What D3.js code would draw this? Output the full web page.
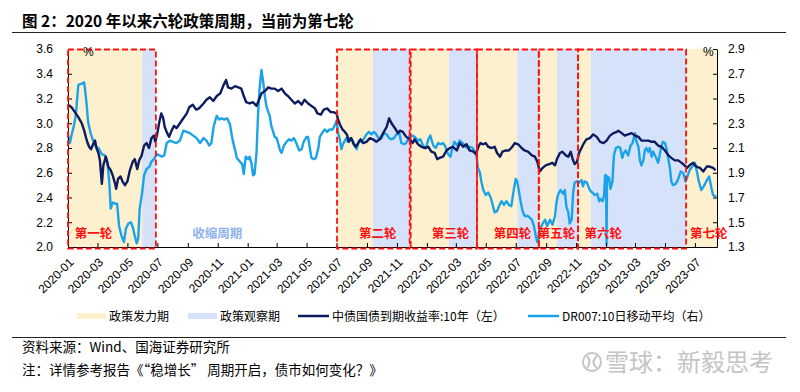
<!DOCTYPE html>
<html>
<head>
<meta charset="utf-8">
<script src="https://cdn.jsdelivr.net/npm/d3@7"></script>
<style>
  body { margin: 0; background: #fff; }
  svg text { font-family: "Liberation Sans", Arial, sans-serif; }
  svg .cjk { font-family: "Noto Sans CJK SC", sans-serif; }
</style>
</head>
<body>
<div id="chart"></div>
<script>
// 中债国债到期收益率:10年 (左轴, %)
var yield10y = [
  ['2020-01-01',3.15],['2020-01-08',3.13],['2020-01-15',3.09],['2020-01-22',3.05],['2020-01-29',3.00],
  ['2020-02-03',2.94],['2020-02-07',2.88],['2020-02-10',2.84],['2020-02-13',2.81],['2020-02-17',2.79],['2020-02-20',2.82],['2020-02-25',2.86],['2020-02-28',2.80],
  ['2020-03-03',2.76],['2020-03-06',2.70],['2020-03-10',2.51],['2020-03-13',2.66],['2020-03-18',2.73],['2020-03-23',2.65],['2020-03-28',2.62],
  ['2020-04-01',2.58],['2020-04-06',2.51],['2020-04-08',2.47],['2020-04-12',2.55],['2020-04-17',2.57],['2020-04-21',2.53],['2020-04-26',2.50],
  ['2020-05-01',2.53],['2020-05-06',2.62],['2020-05-12',2.69],['2020-05-16',2.71],['2020-05-21',2.63],['2020-05-25',2.70],['2020-05-30',2.74],
  ['2020-06-04',2.82],['2020-06-09',2.84],['2020-06-14',2.80],['2020-06-19',2.88],['2020-06-24',2.90],['2020-06-27',2.85],
  ['2020-07-01',2.92],['2020-07-05',3.01],['2020-07-09',3.08],['2020-07-13',3.04],['2020-07-16',2.97],['2020-07-21',2.92],['2020-07-25',2.89],['2020-07-30',2.94],
  ['2020-08-04',2.98],['2020-08-09',2.96],['2020-08-16',3.00],['2020-08-23',3.04],['2020-08-30',3.08],
  ['2020-09-04',3.13],['2020-09-11',3.15],['2020-09-18',3.11],['2020-09-24',3.12],
  ['2020-10-03',3.16],['2020-10-09',3.19],['2020-10-16',3.21],['2020-10-23',3.18],['2020-10-30',3.22],
  ['2020-11-06',3.24],['2020-11-12',3.30],['2020-11-18',3.35],['2020-11-22',3.29],['2020-11-29',3.28],
  ['2020-12-06',3.30],['2020-12-13',3.29],['2020-12-19',3.28],['2020-12-24',3.22],['2020-12-29',3.17],
  ['2021-01-05',3.16],['2021-01-12',3.17],['2021-01-19',3.14],['2021-01-24',3.19],['2021-01-29',3.24],
  ['2021-02-05',3.26],['2021-02-12',3.29],['2021-02-18',3.28],['2021-02-25',3.28],
  ['2021-03-04',3.26],['2021-03-11',3.28],['2021-03-18',3.24],['2021-03-24',3.22],['2021-03-31',3.19],
  ['2021-04-07',3.16],['2021-04-14',3.18],['2021-04-21',3.15],['2021-04-27',3.19],
  ['2021-05-04',3.16],['2021-05-11',3.14],['2021-05-18',3.12],['2021-05-23',3.08],['2021-05-30',3.07],
  ['2021-06-05',3.11],['2021-06-12',3.12],['2021-06-19',3.09],['2021-06-24',3.09],
  ['2021-07-01',3.08],['2021-07-04',3.03],['2021-07-08',2.99],['2021-07-13',2.95],['2021-07-18',2.93],['2021-07-22',2.91],['2021-07-26',2.85],['2021-07-31',2.88],
  ['2021-08-05',2.83],['2021-08-09',2.81],['2021-08-14',2.84],['2021-08-19',2.87],['2021-08-24',2.84],['2021-08-31',2.85],
  ['2021-09-07',2.88],['2021-09-13',2.87],['2021-09-20',2.85],['2021-09-27',2.87],
  ['2021-10-04',2.92],['2021-10-11',2.97],['2021-10-16',3.04],['2021-10-21',3.00],['2021-10-28',2.96],
  ['2021-11-03',2.92],['2021-11-07',2.94],['2021-11-13',2.93],['2021-11-20',2.89],['2021-11-27',2.87],
  ['2021-12-03',2.84],['2021-12-07',2.87],['2021-12-14',2.83],['2021-12-21',2.81],['2021-12-28',2.80],
  ['2022-01-04',2.81],['2022-01-10',2.77],['2022-01-17',2.76],['2022-01-22',2.71],['2022-01-27',2.72],
  ['2022-02-03',2.73],['2022-02-10',2.78],['2022-02-17',2.80],['2022-02-23',2.81],
  ['2022-03-03',2.78],['2022-03-09',2.84],['2022-03-16',2.81],['2022-03-23',2.83],['2022-03-29',2.78],
  ['2022-04-06',2.77],['2022-04-11',2.75],['2022-04-16',2.81],['2022-04-20',2.84],['2022-04-26',2.83],
  ['2022-05-01',2.84],['2022-05-06',2.81],['2022-05-13',2.80],['2022-05-19',2.81],['2022-05-24',2.76],['2022-05-30',2.73],
  ['2022-06-04',2.77],['2022-06-11',2.78],['2022-06-17',2.78],['2022-06-24',2.81],['2022-06-29',2.84],
  ['2022-07-06',2.83],['2022-07-13',2.80],['2022-07-19',2.78],['2022-07-26',2.77],
  ['2022-08-03',2.74],['2022-08-09',2.73],['2022-08-14',2.69],['2022-08-19',2.61],['2022-08-25',2.64],['2022-08-31',2.66],
  ['2022-09-07',2.67],['2022-09-14',2.68],['2022-09-19',2.66],['2022-09-23',2.71],['2022-09-29',2.76],
  ['2022-10-04',2.77],['2022-10-11',2.74],['2022-10-16',2.73],['2022-10-21',2.77],['2022-10-25',2.71],['2022-10-29',2.67],
  ['2022-11-03',2.69],['2022-11-07',2.76],['2022-11-12',2.80],['2022-11-17',2.84],['2022-11-22',2.87],['2022-11-29',2.88],
  ['2022-12-06',2.91],['2022-12-13',2.89],['2022-12-20',2.85],['2022-12-27',2.84],
  ['2023-01-02',2.86],['2023-01-09',2.90],['2023-01-16',2.92],['2023-01-23',2.93],['2023-01-26',2.94],
  ['2023-02-02',2.92],['2023-02-08',2.90],['2023-02-15',2.91],['2023-02-22',2.92],
  ['2023-03-01',2.90],['2023-03-08',2.89],['2023-03-14',2.86],['2023-03-21',2.86],['2023-03-28',2.86],
  ['2023-04-04',2.85],['2023-04-10',2.85],['2023-04-17',2.82],['2023-04-24',2.81],
  ['2023-05-01',2.78],['2023-05-08',2.74],['2023-05-14',2.72],['2023-05-21',2.70],['2023-05-28',2.70],
  ['2023-06-04',2.68],['2023-06-10',2.66],['2023-06-15',2.64],['2023-06-20',2.66],['2023-06-27',2.68],
  ['2023-07-04',2.65],['2023-07-11',2.64],['2023-07-18',2.61],['2023-07-25',2.65],['2023-07-31',2.65],
  ['2023-08-07',2.64],['2023-08-12',2.62]
];

// DR007:10日移动平均 (右轴, %)
var dr007ma10 = [
  ['2020-01-01',2.20],['2020-01-05',2.14],['2020-01-08',2.20],['2020-01-13',2.28],['2020-01-17',2.37],['2020-01-22',2.61],['2020-01-29',2.62],
  ['2020-02-03',2.63],['2020-02-07',2.49],['2020-02-11',2.31],['2020-02-16',2.22],['2020-02-22',2.15],['2020-02-27',2.11],
  ['2020-03-03',2.10],['2020-03-10',2.05],['2020-03-16',2.04],['2020-03-21',1.99],['2020-03-25',1.83],['2020-03-28',1.61],
  ['2020-04-01',1.66],['2020-04-06',1.65],['2020-04-10',1.65],['2020-04-14',1.47],['2020-04-19',1.39],['2020-04-24',1.34],['2020-04-28',1.45],
  ['2020-05-03',1.49],['2020-05-08',1.50],['2020-05-12',1.46],['2020-05-16',1.39],['2020-05-20',1.33],['2020-05-23',1.37],['2020-05-26',1.61],['2020-05-31',1.74],
  ['2020-06-04',1.88],['2020-06-09',1.93],['2020-06-15',1.95],['2020-06-19',1.99],['2020-06-24',2.01],['2020-06-30',2.05],
  ['2020-07-05',2.04],['2020-07-10',2.03],['2020-07-15',2.04],['2020-07-20',2.14],['2020-07-27',2.16],
  ['2020-08-02',2.15],['2020-08-09',2.14],['2020-08-16',2.16],['2020-08-23',2.24],['2020-08-30',2.23],
  ['2020-09-05',2.22],['2020-09-12',2.20],['2020-09-19',2.18],['2020-09-26',2.14],
  ['2020-10-03',2.18],['2020-10-09',2.16],['2020-10-15',2.12],['2020-10-19',2.14],['2020-10-24',2.28],['2020-10-30',2.36],
  ['2020-11-04',2.33],['2020-11-09',2.34],['2020-11-15',2.33],['2020-11-20',2.34],['2020-11-26',2.29],
  ['2020-12-01',2.17],['2020-12-06',2.09],['2020-12-10',2.02],['2020-12-16',1.99],['2020-12-21',1.97],['2020-12-24',1.89],['2020-12-28',2.03],
  ['2021-01-02',2.01],['2021-01-05',2.03],['2021-01-09',1.97],['2021-01-12',1.88],['2021-01-15',1.89],['2021-01-19',2.06],['2021-01-22',2.36],['2021-01-25',2.57],['2021-01-29',2.73],
  ['2021-02-01',2.65],['2021-02-05',2.52],['2021-02-08',2.44],['2021-02-12',2.39],['2021-02-15',2.36],['2021-02-18',2.28],['2021-02-22',2.23],['2021-02-25',2.19],
  ['2021-03-01',2.18],['2021-03-04',2.14],['2021-03-08',2.08],['2021-03-11',2.06],['2021-03-16',2.12],['2021-03-21',2.15],['2021-03-26',2.17],['2021-03-31',2.16],
  ['2021-04-05',2.18],['2021-04-10',2.14],['2021-04-16',2.08],['2021-04-21',2.09],['2021-04-25',2.15],
  ['2021-05-01',2.19],['2021-05-04',2.19],['2021-05-08',2.09],['2021-05-11',2.02],['2021-05-16',2.01],['2021-05-20',2.02],['2021-05-25',2.10],['2021-05-28',2.19],
  ['2021-06-03',2.23],['2021-06-07',2.25],['2021-06-12',2.23],['2021-06-17',2.25],['2021-06-23',2.25],['2021-06-28',2.29],
  ['2021-07-01',2.32],['2021-07-04',2.23],['2021-07-08',2.16],['2021-07-11',2.09],['2021-07-14',2.13],['2021-07-18',2.16],['2021-07-21',2.18],['2021-07-24',2.15],['2021-07-28',2.18],
  ['2021-08-03',2.16],['2021-08-05',2.14],['2021-08-11',2.09],['2021-08-16',2.16],['2021-08-21',2.15],['2021-08-25',2.17],['2021-08-31',2.21],
  ['2021-09-05',2.23],['2021-09-10',2.21],['2021-09-15',2.23],['2021-09-20',2.21],['2021-09-26',2.17],
  ['2021-10-01',2.18],['2021-10-05',2.22],['2021-10-11',2.21],['2021-10-16',2.18],['2021-10-21',2.17],['2021-10-26',2.18],['2021-10-31',2.21],
  ['2021-11-06',2.22],['2021-11-10',2.14],['2021-11-15',2.13],['2021-11-20',2.14],['2021-11-27',2.20],
  ['2021-12-03',2.20],['2021-12-07',2.19],['2021-12-14',2.16],['2021-12-19',2.17],['2021-12-24',2.12],['2021-12-30',2.10],
  ['2022-01-04',2.17],['2022-01-08',2.20],['2022-01-14',2.12],['2022-01-19',2.10],['2022-01-24',2.14],['2022-01-29',2.13],
  ['2022-02-03',2.14],['2022-02-08',2.11],['2022-02-13',2.05],['2022-02-18',2.03],['2022-02-22',2.10],['2022-02-26',2.15],
  ['2022-03-04',2.12],['2022-03-09',2.16],['2022-03-15',2.14],['2022-03-19',2.12],['2022-03-24',2.10],['2022-03-29',2.11],
  ['2022-04-04',2.10],['2022-04-09',2.07],['2022-04-12',2.04],['2022-04-15',1.94],['2022-04-19',1.90],['2022-04-22',1.83],['2022-04-26',1.76],
  ['2022-05-01',1.72],['2022-05-06',1.74],['2022-05-11',1.70],['2022-05-15',1.64],['2022-05-19',1.58],['2022-05-24',1.59],['2022-05-28',1.63],
  ['2022-06-02',1.67],['2022-06-07',1.64],['2022-06-12',1.67],['2022-06-17',1.64],['2022-06-22',1.63],['2022-06-27',1.76],
  ['2022-07-01',1.85],['2022-07-04',1.83],['2022-07-08',1.74],['2022-07-11',1.67],['2022-07-15',1.59],['2022-07-19',1.55],['2022-07-26',1.55],
  ['2022-08-03',1.52],['2022-08-07',1.47],['2022-08-11',1.39],['2022-08-14',1.34],['2022-08-17',1.38],['2022-08-19',1.44],['2022-08-25',1.49],['2022-08-30',1.52],
  ['2022-09-03',1.47],['2022-09-09',1.52],['2022-09-14',1.48],['2022-09-19',1.55],['2022-09-22',1.66],['2022-09-25',1.72],['2022-09-30',1.76],
  ['2022-10-06',1.73],['2022-10-09',1.76],['2022-10-12',1.63],['2022-10-16',1.58],['2022-10-19',1.49],['2022-10-23',1.52],['2022-10-26',1.74],['2022-10-29',1.82],
  ['2022-11-03',1.83],['2022-11-07',1.82],['2022-11-12',1.84],['2022-11-15',1.79],['2022-11-18',1.83],['2022-11-23',1.82],['2022-11-29',1.76],
  ['2022-12-04',1.74],['2022-12-09',1.72],['2022-12-14',1.73],['2022-12-18',1.67],['2022-12-20',1.69],['2022-12-25',1.67],['2022-12-28',1.72],['2022-12-30',1.88],
  ['2023-01-01',1.88],['2023-01-02',1.32],['2023-01-03',1.87],['2023-01-07',1.86],['2023-01-10',1.77],['2023-01-14',1.83],['2023-01-17',2.04],['2023-01-21',2.10],['2023-01-26',2.11],['2023-01-30',2.10],
  ['2023-02-03',2.02],['2023-02-06',2.06],['2023-02-10',2.08],['2023-02-15',2.04],['2023-02-20',2.12],['2023-02-24',2.14],
  ['2023-03-01',2.22],['2023-03-04',2.15],['2023-03-08',2.11],['2023-03-11',2.00],['2023-03-14',1.96],['2023-03-18',2.00],['2023-03-21',2.08],['2023-03-24',2.10],['2023-03-28',2.07],['2023-03-31',2.10],
  ['2023-04-04',2.03],['2023-04-07',2.07],['2023-04-12',2.03],['2023-04-17',1.98],['2023-04-20',2.04],['2023-04-24',2.12],['2023-04-27',2.15],
  ['2023-05-01',2.14],['2023-05-04',2.10],['2023-05-07',2.03],['2023-05-11',1.94],['2023-05-14',1.83],['2023-05-17',1.80],['2023-05-23',1.81],['2023-05-28',1.85],
  ['2023-06-02',1.91],['2023-06-07',1.90],['2023-06-12',1.83],['2023-06-15',1.86],['2023-06-20',1.92],['2023-06-26',1.95],
  ['2023-07-01',1.98],['2023-07-05',1.91],['2023-07-09',1.83],['2023-07-14',1.76],['2023-07-19',1.79],['2023-07-24',1.83],['2023-07-30',1.87],
  ['2023-08-04',1.77],['2023-08-07',1.72],['2023-08-11',1.71],['2023-08-14',1.71]
];

// 政策周期: 发力期 start..watch, 观察期 watch..end
var rounds = [
  { name: '第一轮', start: '2020-01-01', watch: '2020-05-31', end: '2020-06-28', labelAt: '2020-01-15', boxed: true },
  { name: '第二轮', start: '2021-07-02', watch: '2021-09-13', end: '2021-11-27', labelAt: '2021-08-16', boxed: true },
  { name: '第三轮', start: '2021-11-29', watch: '2022-02-15', end: '2022-04-13', labelAt: '2022-01-11', boxed: true },
  { name: '第四轮', start: '2022-04-13', watch: '2022-07-04', end: '2022-08-17', labelAt: '2022-05-17', boxed: true },
  { name: '第五轮', start: '2022-08-17', watch: '2022-09-23', end: '2022-11-05', labelAt: '2022-08-15', boxed: true },
  { name: '第六轮', start: '2022-11-05', watch: '2022-12-01', end: '2023-06-13', labelAt: '2022-11-18', boxed: true },
  { name: '第七轮', start: '2023-06-13', watch: null, end: '2023-08-15', labelAt: '2023-06-21', boxed: false }
];
var contraction = { name: '收缩周期', labelAt: '2020-09-10' };

var xTickLabels = ['2020-01','2020-03','2020-05','2020-07','2020-09','2020-11',
  '2021-01','2021-03','2021-05','2021-07','2021-09','2021-11',
  '2022-01','2022-03','2022-05','2022-07','2022-09','2022-11',
  '2023-01','2023-03','2023-05','2023-07'];
var leftTicks = [2.0, 2.2, 2.4, 2.6, 2.8, 3.0, 3.2, 3.4, 3.6];
var rightTicks = [1.3, 1.5, 1.7, 1.9, 2.1, 2.3, 2.5, 2.7, 2.9];

var legendItems = [
  { label: '政策发力期', type: 'rect', color: '#fdf0cf' },
  { label: '政策观察期', type: 'rect', color: '#d6e2fa' },
  { label: '中债国债到期收益率:10年（左）', type: 'line', color: '#0c1c5e' },
  { label: 'DR007:10日移动平均（右）', type: 'line', color: '#1aa3e8' }
];

var title = '图 2：2020 年以来六轮政策周期，当前为第七轮';
var source = '资料来源：Wind、国海证券研究所';
var note = '注：详情参考报告《“稳增长” 周期开启，债市如何变化？》';

var colors = { push: '#fdf0cf', watch: '#d6e2fa', yield: '#0c1c5e', dr: '#1aa3e8', red: '#ff1010' };

var parseDay = d3.timeParse('%Y-%m-%d');
var parseMonth = d3.timeParse('%Y-%m');

var svgWidth = 800;
var svgHeight = 392;
var margin = { left: 68, right: 83, top: 49, bottom: 145 };
var width = svgWidth - margin.left - margin.right;
var height = svgHeight - margin.top - margin.bottom;

var svg = d3.select('#chart').append('svg')
  .attr('width', svgWidth)
  .attr('height', svgHeight);

// 标题
svg.append('text')
  .attr('class', 'cjk')
  .attr('x', 22).attr('y', 27)
  .attr('font-size', 15.5).attr('font-weight', 700)
  .text(title);
svg.append('line')
  .attr('x1', 12).attr('x2', 786).attr('y1', 32.5).attr('y2', 32.5)
  .attr('stroke', '#222').attr('stroke-width', 1.2);

var g = svg.append('g')
  .attr('transform', 'translate(' + margin.left + ', ' + margin.top + ')');

var xScale = d3.scaleTime()
  .domain([parseDay('2020-01-01'), parseDay('2023-08-15')])
  .range([0, width]);
var yLeft = d3.scaleLinear().domain([2.0, 3.6]).range([height, 0]);
var yRight = d3.scaleLinear().domain([1.3, 2.9]).range([height, 0]);

// 背景阴影
rounds.forEach(function (r) {
  var s = xScale(parseDay(r.start));
  var e = xScale(parseDay(r.end));
  var w = r.watch ? xScale(parseDay(r.watch)) : e;
  g.append('rect').attr('x', s).attr('y', 0).attr('width', w - s).attr('height', height)
    .attr('fill', colors.push);
  if (r.watch) {
    g.append('rect').attr('x', w).attr('y', 0).attr('width', e - w).attr('height', height)
      .attr('fill', colors.watch);
  }
});

// 线
var lineLeft = d3.line()
  .x(function (d) { return xScale(parseDay(d[0])); })
  .y(function (d) { return yLeft(d[1]); });
var lineRight = d3.line()
  .x(function (d) { return xScale(parseDay(d[0])); })
  .y(function (d) { return yRight(d[1]); });

g.append('path')
  .datum(dr007ma10)
  .attr('fill', 'none')
  .attr('stroke', colors.dr)
  .attr('stroke-width', 2.4)
  .attr('stroke-linejoin', 'round')
  .attr('d', lineRight);
g.append('path')
  .datum(yield10y)
  .attr('fill', 'none')
  .attr('stroke', colors.yield)
  .attr('stroke-width', 2.4)
  .attr('stroke-linejoin', 'round')
  .attr('d', lineLeft);

// 坐标轴
var xAxis = d3.axisBottom(xScale)
  .tickValues(xTickLabels.map(parseMonth))
  .tickFormat(d3.timeFormat('%Y-%m'))
  .tickSizeInner(-4).tickSizeOuter(0);
var gx = g.append('g')
  .attr('transform', 'translate(0, ' + height + ')')
  .call(xAxis);
gx.selectAll('text')
  .attr('x', 0).attr('y', 0).attr('dy', '0.35em')
  .attr('transform', 'translate(3, 13) rotate(-45)')
  .style('text-anchor', 'end');

var gl = g.append('g')
  .call(d3.axisLeft(yLeft).tickValues(leftTicks).tickFormat(d3.format('.1f'))
    .tickSizeInner(-4).tickSizeOuter(0).tickPadding(15));
var gr = g.append('g')
  .attr('transform', 'translate(' + width + ', 0)')
  .call(d3.axisRight(yRight).tickValues(rightTicks).tickFormat(d3.format('.1f'))
    .tickSizeInner(-4).tickSizeOuter(0).tickPadding(11));

[gx, gl, gr].forEach(function (a) {
  a.attr('font-family', '"Liberation Sans", Arial, sans-serif').attr('font-size', 12);
  a.selectAll('text').attr('fill', '#000');
  a.selectAll('line, path').attr('stroke', '#000');
});

// 虚线框
rounds.filter(function (r) { return r.boxed; }).forEach(function (r) {
  var s = xScale(parseDay(r.start));
  var e = xScale(parseDay(r.end));
  g.append('rect')
    .attr('x', s).attr('y', 0.5).attr('width', e - s).attr('height', height + 1)
    .attr('fill', 'none')
    .attr('stroke', colors.red)
    .attr('stroke-width', 1.8)
    .attr('stroke-dasharray', '6,3');
});

// 轮次标签
rounds.forEach(function (r) {
  g.append('text')
    .attr('class', 'cjk')
    .attr('x', xScale(parseDay(r.labelAt)))
    .attr('y', height - 9)
    .attr('font-size', 12.5).attr('font-weight', 700)
    .attr('fill', colors.red)
    .text(r.name);
});
g.append('text')
  .attr('class', 'cjk')
  .attr('x', xScale(parseDay(contraction.labelAt)))
  .attr('y', height - 9)
  .attr('font-size', 12.5).attr('font-weight', 700)
  .attr('fill', '#8fb2ef')
  .text(contraction.name);

// 单位
g.append('text').attr('x', 15).attr('y', 7).attr('font-size', 12).text('%');
g.append('text').attr('x', width - 14).attr('y', 7).attr('font-size', 12).text('%');

// 图例
var legendX = [77, 188, 298, 528];
var lg = svg.append('g').attr('transform', 'translate(0, 316)');
legendItems.forEach(function (item, i) {
  var x0 = legendX[i];
  if (item.type === 'rect') {
    lg.append('rect').attr('x', x0).attr('y', -3).attr('width', 29).attr('height', 6)
      .attr('fill', item.color);
  } else {
    lg.append('line').attr('x1', x0).attr('x2', x0 + 31).attr('y1', 0).attr('y2', 0)
      .attr('stroke', item.color).attr('stroke-width', 2.5);
  }
  lg.append('text')
    .attr('class', 'cjk')
    .attr('x', x0 + (item.type === 'rect' ? 32 : 34))
    .attr('y', 4.5)
    .attr('font-size', 12)
    .text(item.label);
});

// 底部
svg.append('line')
  .attr('x1', 12).attr('x2', 786).attr('y1', 337.5).attr('y2', 337.5)
  .attr('stroke', '#222').attr('stroke-width', 1.2);
svg.append('text').attr('class', 'cjk').attr('x', 22).attr('y', 352)
  .attr('font-size', 13.5).text(source);
svg.append('text').attr('class', 'cjk').attr('x', 22).attr('y', 375)
  .attr('font-size', 13.5).text(note);

// 水印
var wm = svg.append('g').attr('fill', 'none').attr('stroke', '#c4c4c4');
wm.append('circle').attr('cx', 592).attr('cy', 362).attr('r', 9).attr('stroke-width', 2);
wm.append('path').attr('d', 'M587,356 Q592,362 587,368 M597,356 Q590,362 597,368')
  .attr('stroke-width', 2);
svg.append('text').attr('class', 'cjk')
  .attr('x', 605).attr('y', 371)
  .attr('font-size', 24)
  .attr('fill', '#c4c4c4')
  .text('雪球：新毅思考');
</script>
</body>
</html>
